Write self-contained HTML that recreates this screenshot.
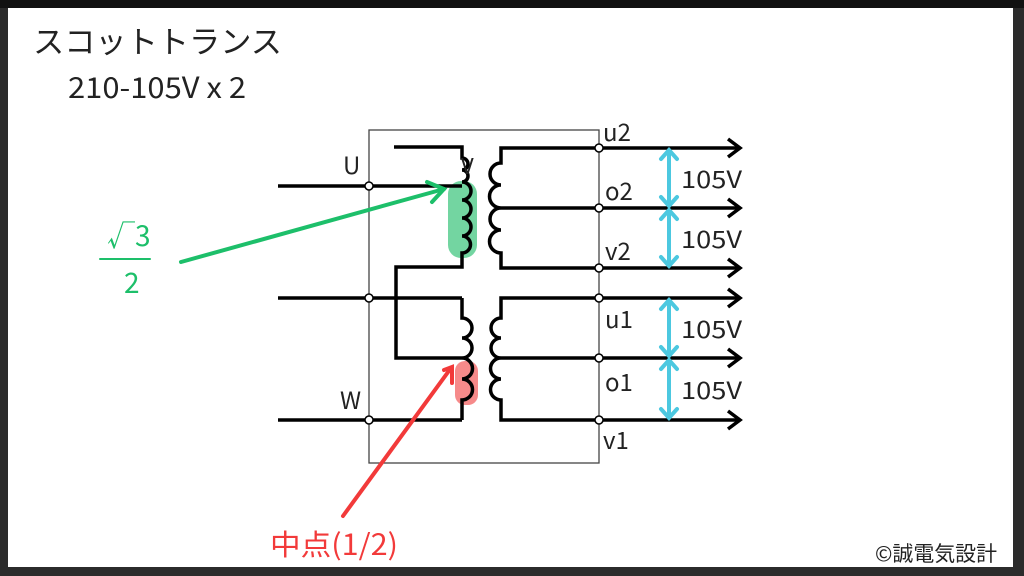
<!DOCTYPE html>
<html><head><meta charset="utf-8"><style>
html,body{margin:0;padding:0;background:#1a1a1a;}
.wrap{position:relative;width:1024px;height:576px;overflow:hidden;background:#2a2a2a;}
svg{position:absolute;left:0;top:0;}
text{font-family:"Noto Sans CJK JP","Liberation Sans",sans-serif;}
</style></head><body><div class="wrap">
<svg width="1024" height="576" viewBox="0 0 1024 576" xmlns="http://www.w3.org/2000/svg">
<rect x="0" y="0" width="1024" height="576" fill="#2b2b2b"/>
<rect x="0" y="0" width="1024" height="8" fill="#111"/>
<rect x="8" y="8" width="1005" height="559" fill="#fff"/>
<text x="33" y="53" font-size="31" fill="#222" textLength="249" lengthAdjust="spacingAndGlyphs">スコットトランス</text>
<text x="68" y="98" font-size="29" fill="#222" textLength="178" lengthAdjust="spacingAndGlyphs">210-105V x 2</text>

<rect x="369" y="130" width="230" height="333" fill="none" stroke="#444" stroke-width="1.3"/>

<rect x="448" y="181" width="29" height="77" rx="13" fill="rgba(40,190,110,0.65)"/>
<rect x="455" y="361" width="23" height="44" rx="10" fill="rgba(240,60,60,0.6)"/>

<g fill="none" stroke="#000" stroke-width="3.5">
<line x1="278" y1="186" x2="462" y2="186"/>
<line x1="278" y1="298" x2="462" y2="298"/>
<line x1="278" y1="420" x2="462" y2="420"/>
<path d="M394 147 H462 V158 a6 6 0 0 1 0 12 a6 6 0 0 1 0 12 a9 9 0 0 1 0 18 a9 9 0 0 1 0 18 a9 9 0 0 1 0 18 a8.5 8.5 0 0 1 0 17 V267 H396 V358 H462"/>
<path d="M462 298 V318 a10 10 0 0 1 0 20 a10 10 0 0 1 0 20 a10.5 10.5 0 0 1 0 21 a10.5 10.5 0 0 1 0 21 V420"/>
<path d="M740 148 H501 V163 a11 11 0 0 0 0 22 a11.5 11.5 0 0 0 0 23 H740 M501 208 a11 11 0 0 0 0 22 a11.5 11.5 0 0 0 0 23 V268 H740"/>
<path d="M740 298 H501 V318 a10 10 0 0 0 0 20 a10 10 0 0 0 0 20 H740 M501 358 a10.5 10.5 0 0 0 0 21 a10.5 10.5 0 0 0 0 21 V420 H740"/>
<path d="M728 139 L740 148 L728 157 M728 199 L740 208 L728 217 M728 259 L740 268 L728 277 M728 289 L740 298 L728 307 M728 349 L740 358 L728 367 M728 411 L740 420 L728 429"/>
</g>
<g fill="#fff" stroke="#000" stroke-width="1.5">
<circle cx="369" cy="186" r="4"/><circle cx="369" cy="298" r="4"/><circle cx="369" cy="420" r="4"/>
<circle cx="599" cy="148" r="4"/><circle cx="599" cy="208" r="4"/><circle cx="599" cy="268" r="4"/>
<circle cx="599" cy="298" r="4"/><circle cx="599" cy="358" r="4"/><circle cx="599" cy="420" r="4"/>
</g>
<g fill="none" stroke="#4cc8e0" stroke-width="4" stroke-linecap="round">
<path d="M669 150 V206 M661 159 L669 150 L677 159 M661 197 L669 206 L677 197"/>
<path d="M669 210 V266 M661 219 L669 210 L677 219 M661 257 L669 266 L677 257"/>
<path d="M669 300 V356 M661 309 L669 300 L677 309 M661 347 L669 356 L677 347"/>
<path d="M669 360 V418 M661 369 L669 360 L677 369 M661 409 L669 418 L677 409"/>
</g>
<g font-size="24" fill="#222">
<text x="681" y="188" textLength="61" lengthAdjust="spacingAndGlyphs">105V</text>
<text x="681" y="248" textLength="61" lengthAdjust="spacingAndGlyphs">105V</text>
<text x="681" y="338" textLength="61" lengthAdjust="spacingAndGlyphs">105V</text>
<text x="681" y="399" textLength="61" lengthAdjust="spacingAndGlyphs">105V</text>
<text x="603" y="141">u2</text><text x="605" y="200">o2</text><text x="605" y="260">v2</text>
<text x="605" y="328">u1</text><text x="605" y="391">o1</text><text x="603" y="449">v1</text>
<text x="343" y="174">U</text><text x="340" y="409">W</text>
<text x="461" y="174" font-size="22">V</text>
</g>
<g stroke="#1dbf6a" stroke-width="4" fill="none" stroke-linecap="round">
<line x1="181" y1="262" x2="444" y2="189"/>
<path d="M427 182 L444 189 L432 202"/>
<line x1="100" y1="259" x2="150" y2="259" stroke-width="2"/>
</g>
<text x="107" y="246" font-size="28" fill="#1dbf6a">√3</text>
<text x="124" y="293" font-size="28" fill="#1dbf6a">2</text>
<g stroke="#f23a3a" stroke-width="4" fill="none" stroke-linecap="round">
<line x1="343" y1="516" x2="451" y2="368"/>
<path d="M444 370 L452 367 L452 383"/>
</g>
<text x="270" y="555" font-size="29" fill="#f23a3a" textLength="128" lengthAdjust="spacingAndGlyphs">中点(1/2)</text>
<text x="875" y="561" font-size="21" fill="#222" textLength="122" lengthAdjust="spacingAndGlyphs">©誠電気設計</text>
</svg>
</div></body></html>
